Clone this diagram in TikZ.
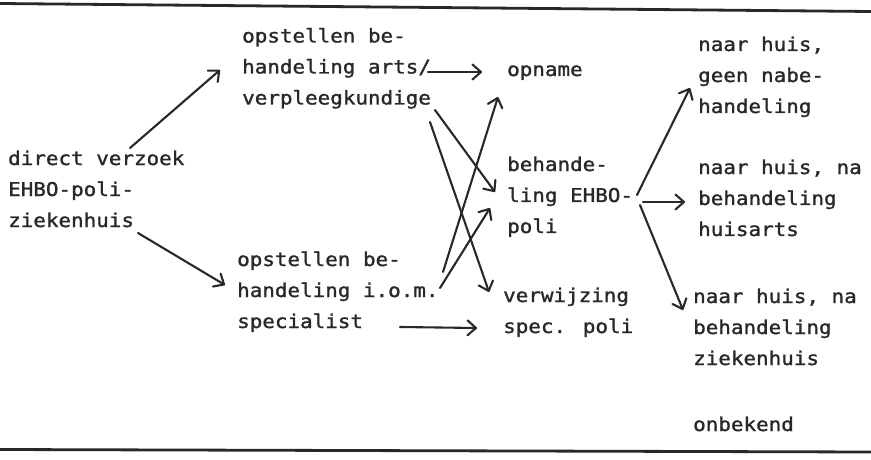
\documentclass[tikz,border=0pt]{standalone}
\usepackage{fontspec}
\usetikzlibrary{arrows.meta}
\newfontfamily\typewriter[FakeStretch=1.1,FakeBold=1.3]{DejaVu Sans Mono}
\definecolor{ink}{RGB}{40,40,40}
\newcommand\txtlines[1]{\vtop{\halign{##\hfil\cr#1\crcr}}}
\tikzset{
  txt/.style={anchor=base west, inner sep=0pt, text=ink,
    font=\typewriter\fontsize{19}{31}\selectfont},
  arr/.style={draw=ink, line width=2.1pt, line cap=round,
    -{Straight Barb[length=8.5pt,width=15pt,line cap=round,line join=round]}},
  rule/.style={draw=ink, line width=2.8pt}
}
\begin{document}
\begin{tikzpicture}[x=1pt,y=-1pt]
\useasboundingbox (0,0) rectangle (871,460);
% horizontal rules
\draw[rule] (0,3.5) -- (871,11.5);
\draw[rule] (0,449.5) -- (871,452);
% text blocks
\node[txt] (A) at (8,165) {\txtlines{direct verzoek\cr EHBO-poli-\cr ziekenhuis}};
\node[txt] (B) at (242,42.5) {\txtlines{opstellen be-\cr handeling arts/\cr verpleegkundige}};
\node[txt] (C) at (237,266) {\txtlines{opstellen be-\cr handeling i.o.m.\cr specialist}};
\node[txt] (D) at (507,76) {opname};
\node[txt] (E) at (507,171) {\txtlines{behande-\cr ling EHBO-\cr poli}};
\node[txt] (F) at (503,302) {\txtlines{verwijzing\cr spec. poli}};
\node[txt] (G) at (698,51) {\txtlines{naar huis,\cr geen nabe-\cr handeling}};
\node[txt] (H) at (698,174) {\txtlines{naar huis, na\cr behandeling\cr huisarts}};
\node[txt] (I) at (693,303) {\txtlines{naar huis, na\cr behandeling\cr ziekenhuis}};
\node[txt] (J) at (693,431) {onbekend};
% connector end points
\coordinate (A-B) at (130,148);  \coordinate (B-A) at (220,70);
\coordinate (A-C) at (138,233);  \coordinate (C-A) at (225,285);
\coordinate (B-D) at (428,72);   \coordinate (D-B) at (482,72);
\coordinate (B-E) at (435,110);  \coordinate (E-B) at (495,192);
\coordinate (B-F) at (430,122);  \coordinate (F-B) at (489,292);
\coordinate (C-D) at (443,272);  \coordinate (D-C) at (498,97);
\coordinate (C-E) at (440,288);  \coordinate (E-C) at (490,208);
\coordinate (C-F) at (400,327);  \coordinate (F-C) at (477,328);
\coordinate (E-G) at (637,195);  \coordinate (G-E) at (690,88);
\coordinate (E-H) at (643,202);  \coordinate (H-E) at (685,202);
\coordinate (E-I) at (640,205);  \coordinate (I-E) at (683,310);
% connectors
\draw[arr] (A-B) -- (B-A);
\draw[arr] (A-C) -- (C-A);
\draw[arr] (B-D) -- (D-B);
\draw[arr] (B-E) -- (E-B);
\draw[arr] (B-F) -- (F-B);
\draw[arr] (C-D) -- (D-C);
\draw[arr] (C-E) -- (E-C);
\draw[arr] (C-F) -- (F-C);
\draw[arr] (E-G) -- (G-E);
\draw[arr] (E-H) -- (H-E);
\draw[arr] (E-I) -- (I-E);
\end{tikzpicture}
\end{document}
